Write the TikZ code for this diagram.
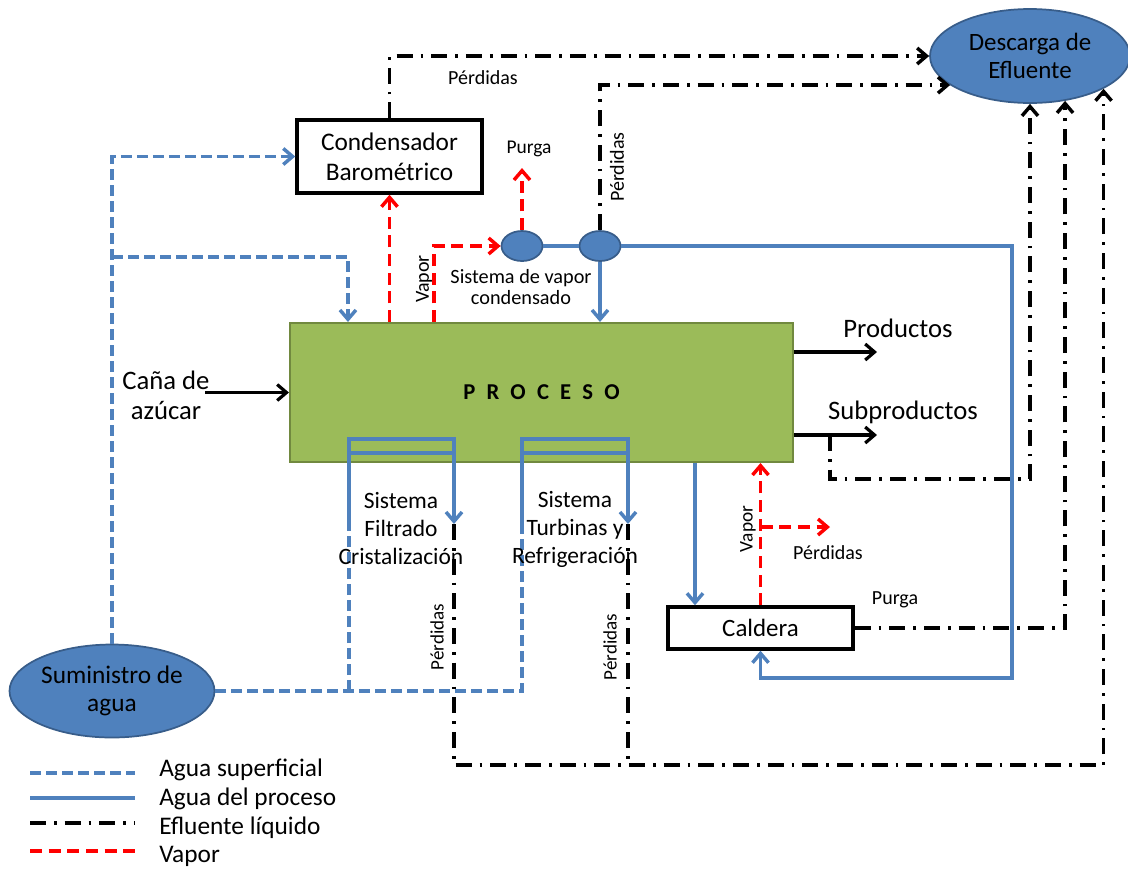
\documentclass[tikz,border=0pt]{standalone}
\usepackage{fontspec}
\setmainfont{Carlito}
\usetikzlibrary{arrows.meta,shapes.geometric,calc}
\definecolor{bl}{HTML}{4F81BD}
\definecolor{bld}{HTML}{385D8A}
\definecolor{gr}{HTML}{9BBB59}
\definecolor{grd}{HTML}{71893F}
\definecolor{rd}{HTML}{FF0000}
\newcommand\fsz[2]{\fontsize{#1}{#2}\selectfont}
\begin{document}
\begin{tikzpicture}[x=0.75pt,y=-0.75pt,
  sup/.style={draw=bl,line width=2.6pt,dash pattern=on 8pt off 4pt},
  prc/.style={draw=bl,line width=2.6pt},
  eff/.style={draw=black,line width=2.6pt,dash pattern=on 12pt off 6pt on 2pt off 6pt},
  vap/.style={draw=rd,line width=2.6pt,dash pattern=on 9pt off 5pt},
  blk/.style={draw=black,line width=2.4pt},
  tip/.style={-{Straight Barb[length=7pt,width=12pt]}},
  box/.style={draw=black,line width=2.6pt,fill=white,align=center,inner sep=0pt},
  blob/.style={ellipse,draw=bld,line width=1.3pt,fill=bl,align=center,inner sep=0pt},
  lbl/.style={inner sep=0pt,align=center}
]
\useasboundingbox (0,0) rectangle (1128,869);

% main nodes
\node[draw=grd,line width=1.8pt,fill=gr,minimum width=377pt,minimum height=104pt,inner sep=0pt] (proc) at (541.5,392.5)
  {\fsz{17}{20}\bfseries P\hspace{8.4pt}R\hspace{8.4pt}O\hspace{8.4pt}C\hspace{8.4pt}E\hspace{8.4pt}S\hspace{8.4pt}O};
\node[box,minimum width=138.75pt,minimum height=54.75pt,font=\fsz{19}{22.5}] (cond) at (389.5,156.5) {Condensador\\Barométrico};
\node[box,minimum width=138.75pt,minimum height=31.5pt,font=\fsz{18.7}{22}] (cald) at (760.5,628) {Caldera};
\node[blob,minimum width=153.75pt,minimum height=69.75pt,font=\fsz{19}{21}] (sum) at (112,691) {Suministro de\\agua};
\node[blob,minimum width=150pt,minimum height=70.5pt,font=\fsz{18.7}{21.5}] (desc) at (1030,56) {Descarga de\\Efluente};
\node[blob,minimum width=30.75pt,minimum height=22.5pt] (v1) at (522,246) {};
\node[blob,minimum width=30.75pt,minimum height=22.5pt] (v2) at (600,246) {};

% coordinates
\coordinate (b1) at (112,257);
\coordinate (fL) at (349,525);
\coordinate (tL) at (522,525);
\coordinate (fOut) at (454,524);
\coordinate (tOut) at (628,524);
\coordinate (sp) at (830,435);
\coordinate (purga1) at (522,168);
\coordinate (perd) at (830,527);
\coordinate (cane) at (205,392.5);
\coordinate (prodE) at (877,352);
\coordinate (subE) at (877,435);

% loops (process water, solid)
\draw[prc,tip] (fL) |- (454,439) -- (fOut);
\draw[prc] (349,453) -- (454,453);
\draw[prc,tip] (tL) |- (628,439) -- (tOut);
\draw[prc] (522,453) -- (628,453);

% surface water (dashed blue)
\draw[sup,tip] (sum.north) |- (cond.west);
\draw[sup,tip] (b1) -| ($(proc.north west)+(59,0)$);
\draw[sup] (sum.east) -| (tL);
\draw[sup] (fL |- sum.east) -- (fL);

% effluent (dash-dot)
\draw[eff,tip] (cond.north) |- (desc.west);
\draw[eff,tip] (v2.north) |- (desc.200);
\draw[eff,tip] (fOut) -- (fOut |- 0,765) -| (desc.336);
\draw[eff] (tOut) -- (tOut |- 0,765);
\draw[eff,tip] (sp) -- (sp |- 0,479) -| (desc.south);
\draw[eff,tip] (cald.east) -| (desc.308);

% steam (red dashed)
\draw[vap,tip] (cond.south |- proc.north) -- (cond.south);
\draw[vap,tip] ($(proc.north west)+(145,0)$) |- (v1.west);
\draw[vap,tip] (v1.north) -- (purga1);
\draw[vap,tip] (cald.north) -- (cald.north |- proc.south);
\draw[vap,tip] (cald.north |- perd) -- (perd);

% process water (solid blue)
\draw[prc] (v1.east) -- (v2.west);
\draw[prc,tip] (v2.east) -| (1012,678) -| (cald.south);
\draw[prc,tip] (v2.south) -- (v2.south |- proc.north);
\draw[prc,tip] (proc.south -| 695,0) -- (cald.north -| 695,0);

% black arrows
\draw[blk,tip] (cane) -- (proc.west);
\draw[blk,tip] (proc.east |- prodE) -- (prodE);
\draw[blk,tip] (proc.east |- subE) -- (subE);

% labels
\node[lbl,font=\fsz{20}{22.5}] (lcane) at (166,395) {Caña de\\azúcar};
\node[lbl,font=\fsz{20}{22}] (lprod) at (898,328) {Productos};
\node[lbl,font=\fsz{20}{22}] (lsub) at (903,412) {Subproductos};
\node[lbl,font=\fsz{15}{15}] (lp1) at (483,78) {Pérdidas};
\node[lbl,font=\fsz{15}{15},rotate=90] (lp2) at (617,167) {Pérdidas};
\node[lbl,font=\fsz{14.6}{15}] (lpur1) at (529,149) {Purga};
\node[lbl,font=\fsz{15}{15},rotate=90] (lvap1) at (424,279) {Vapor};
\node[lbl,font=\fsz{15.2}{16}] (lsvc) at (521,287) {Sistema de vapor\\condensado};
\node[lbl,font=\fsz{17.6}{21}] (lfil) at (401,529) {Sistema\\Filtrado\\Cristalización};
\node[lbl,font=\fsz{17.6}{21}] (ltur) at (575,529) {Sistema\\Turbinas y\\Refrigeración};
\node[lbl,font=\fsz{14.3}{15},rotate=90] (lp3) at (437,637) {Pérdidas};
\node[lbl,font=\fsz{14.3}{15},rotate=90] (lp4) at (610,647) {Pérdidas};
\node[lbl,font=\fsz{14.5}{15},rotate=90] (lvap2) at (748,529) {Vapor};
\node[lbl,font=\fsz{15}{15}] (lp5) at (828,553) {Pérdidas};
\node[lbl,font=\fsz{15}{15}] (lpur2) at (895,600) {Purga};

% legend
\draw[sup] (30,773) -- (135,773);
\draw[prc] (30,798) -- (135,798);
\draw[eff] (30,823) -- (135,823);
\draw[vap] (30,851) -- (135,851);
\node[lbl,anchor=west,font=\fsz{19}{21}] (lg1) at (159,770) {Agua superficial};
\node[lbl,anchor=west,font=\fsz{19}{21}] (lg2) at (159,799) {Agua del proceso};
\node[lbl,anchor=west,font=\fsz{19}{21}] (lg3) at (159,828) {Efluente líquido};
\node[lbl,anchor=west,font=\fsz{19}{21}] (lg4) at (159,856) {Vapor};
\end{tikzpicture}
\end{document}
